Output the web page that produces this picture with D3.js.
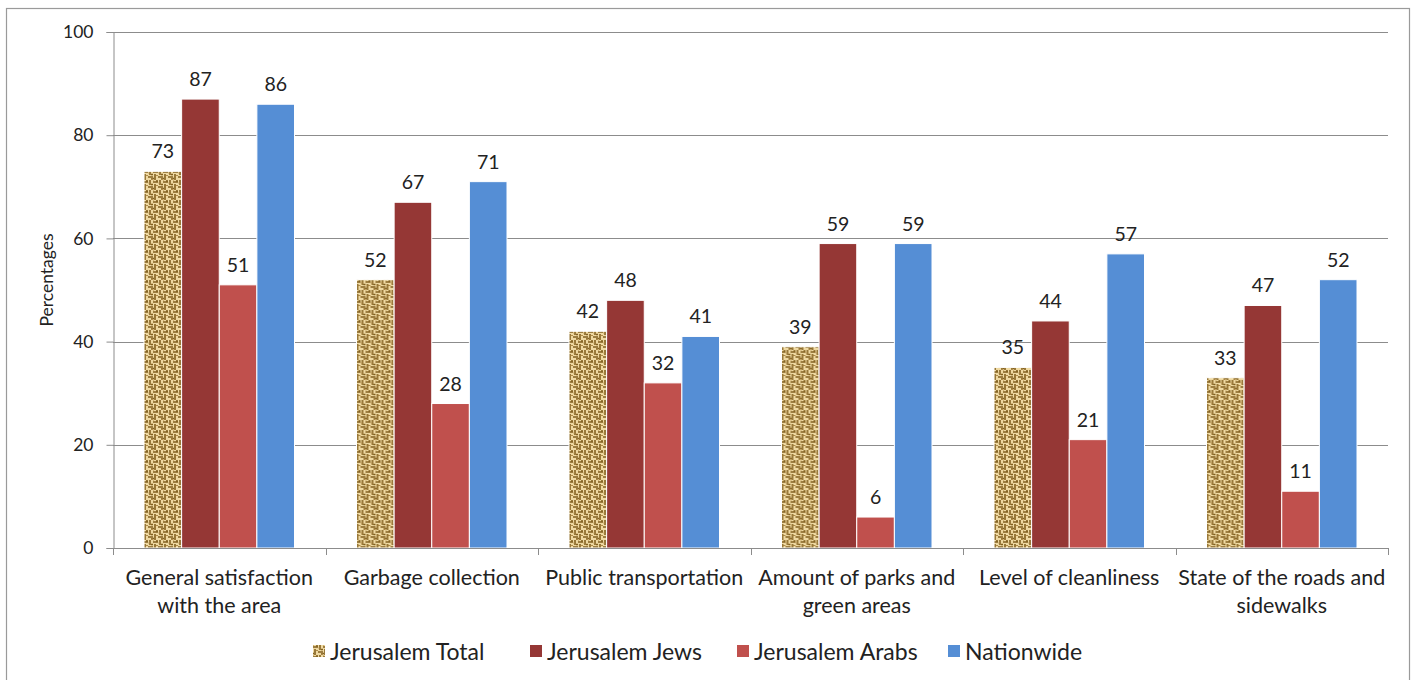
<!DOCTYPE html>
<html>
<head>
<meta charset="utf-8">
<script src="https://cdn.jsdelivr.net/npm/d3@7"></script>
<style>
  html, body { margin: 0; padding: 0; background: #fff; }
  svg { display: block; }
  text { font-family: Lato, "Open Sans", sans-serif; fill: #222; }
</style>
</head>
<body>
<svg id="chart" width="1414" height="680"></svg>
<script>
// Survey categories (x axis), wrapped into lines as displayed
const categories = [
  ["General satisfaction", "with the area"],
  ["Garbage collection"],
  ["Public transportation"],
  ["Amount of parks and", "green areas"],
  ["Level of cleanliness"],
  ["State of the roads and", "sidewalks"]
];
const seriesNames = ["Jerusalem Total", "Jerusalem Jews", "Jerusalem Arabs", "Nationwide"];
const jerusalemTotal = [73, 52, 42, 39, 35, 33];
const jerusalemJews  = [87, 67, 48, 59, 44, 47];
const jerusalemArabs = [51, 28, 32, 6, 21, 11];
const nationwide     = [86, 71, 41, 59, 57, 52];
const yTicks = [0, 20, 40, 60, 80, 100];

const seriesValues = [jerusalemTotal, jerusalemJews, jerusalemArabs, nationwide];
const fills = ["url(#burlap)", "#953735", "#c0504d", "#558ed5"];

const svg = d3.select("#chart");

// Woven burlap texture for the "Jerusalem Total" series
const defs = svg.append("defs");
const pat = defs.append("pattern")
  .attr("id", "burlap").attr("patternUnits", "userSpaceOnUse")
  .attr("width", 10).attr("height", 10);
pat.append("rect").attr("width", 10).attr("height", 10).attr("fill", "#efd9a2");
pat.append("path")
  .attr("d", "M0,2H5 M5,7H10 M2,4V10 M7,0V5 M0,8.5H1 M8,4.5H10 M4,0V1.5 M9,8V10")
  .attr("stroke", "#82601f").attr("stroke-width", 1.6).attr("fill", "none");
pat.append("path")
  .attr("d", "M3,5.5H5 M6,2.5V3.5 M0,0H1 M8.5,9.5H10")
  .attr("stroke", "#b08c48").attr("stroke-width", 1.2).attr("fill", "none");

// Outer frame
svg.append("rect").attr("x", 6.5).attr("y", 8.5).attr("width", 1403).attr("height", 700)
  .attr("fill", "none").attr("stroke", "#9a9a9a").attr("stroke-width", 1.2);

const margin = { left: 113, right: 1388, top: 32, bottom: 548 };

const x0 = d3.scaleBand()
  .domain(d3.range(categories.length))
  .range([margin.left, margin.right])
  .paddingInner(0).paddingOuter(0);

const x1 = d3.scaleBand()
  .domain(d3.range(seriesNames.length))
  .range([31, x0.bandwidth() - 31])
  .padding(0);

const y = d3.scaleLinear().domain([0, 100]).range([margin.bottom, margin.top]);

// Horizontal gridlines
svg.append("g").selectAll("line").data(yTicks.filter(d => d > 0)).join("line")
  .attr("x1", margin.left).attr("x2", margin.right)
  .attr("y1", d => Math.round(y(d)) + 0.5).attr("y2", d => Math.round(y(d)) + 0.5)
  .attr("stroke", "#8c8c8c").attr("stroke-width", 1);

// Y axis
const yAxis = svg.append("g")
  .attr("transform", `translate(${margin.left + 0.5},0)`)
  .call(d3.axisLeft(y).tickValues(yTicks).tickSize(7).tickPadding(13));
yAxis.select(".domain").attr("stroke", "#8c8c8c");
yAxis.selectAll(".tick line").attr("stroke", "#8c8c8c");
yAxis.selectAll(".tick text").attr("font-size", 17.5).attr("fill", "#222")
  .style("font-family", 'Lato, sans-serif');

svg.append("text")
  .attr("transform", "translate(53,280) rotate(-90)")
  .attr("text-anchor", "middle").attr("font-size", 17.5).text("Percentages");

// Bars
const groups = svg.append("g").selectAll("g").data(categories).join("g")
  .attr("transform", (d, i) => `translate(${x0(i)},0)`);

groups.each(function (cat, ci) {
  const g = d3.select(this);
  seriesValues.forEach((vals, si) => {
    const v = vals[ci];
    g.append("rect")
      .attr("x", x1(si)).attr("width", x1.bandwidth())
      .attr("y", y(v)).attr("height", y(0) - y(v))
      .attr("fill", fills[si])
      .attr("stroke", "#fff").attr("stroke-width", 1);
    g.append("text")
      .attr("x", x1(si) + x1.bandwidth() / 2)
      .attr("y", y(v) - 13)
      .attr("text-anchor", "middle").attr("font-size", 19.5)
      .text(v);
  });
});

// X axis
svg.append("line")
  .attr("x1", margin.left).attr("x2", margin.right)
  .attr("y1", margin.bottom + 0.5).attr("y2", margin.bottom + 0.5)
  .attr("stroke", "#8c8c8c");
svg.append("g").selectAll("line").data(d3.range(categories.length + 1)).join("line")
  .attr("x1", i => Math.round(margin.left + i * x0.bandwidth()) + 0.5)
  .attr("x2", i => Math.round(margin.left + i * x0.bandwidth()) + 0.5)
  .attr("y1", margin.bottom).attr("y2", margin.bottom + 7)
  .attr("stroke", "#8c8c8c");

const labels = svg.append("g").selectAll("text").data(categories).join("text")
  .attr("text-anchor", "middle").attr("font-size", 21.5)
  .attr("transform", (d, i) => `translate(${x0(i) + x0.bandwidth() / 2},585)`);
labels.selectAll("tspan").data(d => d).join("tspan")
  .attr("x", 0).attr("dy", (d, i) => i === 0 ? 0 : 28).text(d => d);

// Legend
const legendX = [313, 530, 737, 948];
const legend = svg.append("g").selectAll("g").data(seriesNames).join("g")
  .attr("transform", (d, i) => `translate(${legendX[i]},645)`);
legend.append("rect").attr("width", 12).attr("height", 12)
  .attr("fill", (d, i) => fills[i]);
legend.append("text").attr("x", 17).attr("y", 15).attr("font-size", 23).text(d => d);
</script>
</body>
</html>
